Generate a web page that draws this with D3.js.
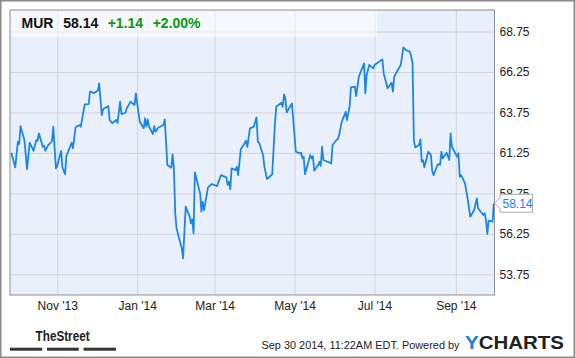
<!DOCTYPE html>
<html>
<head>
<meta charset="utf-8">
<script src="https://cdn.jsdelivr.net/npm/d3@7"></script>
<style>
  body { margin: 0; background: #fff; }
  svg { display: block; font-family: 'Liberation Sans', Arial, sans-serif; }
</style>
</head>
<body>
<div id="chart"></div>
<script>
// MUR daily close
var dates = [
  '2013-09-27', '2013-09-30', '2013-10-02', '2013-10-03', '2013-10-04', '2013-10-07', '2013-10-09', '2013-10-11', '2013-10-14', '2013-10-16',
  '2013-10-17', '2013-10-18', '2013-10-21', '2013-10-22', '2013-10-23', '2013-10-25', '2013-10-28', '2013-10-29', '2013-10-31',
  '2013-11-01', '2013-11-04', '2013-11-05', '2013-11-07', '2013-11-08', '2013-11-11', '2013-11-12', '2013-11-13', '2013-11-15', '2013-11-18',
  '2013-11-19', '2013-11-22', '2013-11-25', '2013-11-26', '2013-11-27', '2013-11-29',
  '2013-12-02', '2013-12-03', '2013-12-05', '2013-12-06', '2013-12-09', '2013-12-10', '2013-12-11', '2013-12-13', '2013-12-16', '2013-12-17',
  '2013-12-19', '2013-12-20', '2013-12-23', '2013-12-24', '2013-12-27', '2013-12-30', '2013-12-31',
  '2014-01-02', '2014-01-03', '2014-01-06', '2014-01-07', '2014-01-08', '2014-01-09', '2014-01-10', '2014-01-13', '2014-01-14', '2014-01-15',
  '2014-01-17', '2014-01-21', '2014-01-22', '2014-01-24', '2014-01-27', '2014-01-28', '2014-01-29', '2014-01-30', '2014-01-31',
  '2014-02-03', '2014-02-04', '2014-02-05', '2014-02-07', '2014-02-10', '2014-02-11', '2014-02-12', '2014-02-13', '2014-02-14', '2014-02-18',
  '2014-02-19', '2014-02-20', '2014-02-21', '2014-02-24', '2014-02-27',
  '2014-03-03', '2014-03-04', '2014-03-06', '2014-03-10', '2014-03-11', '2014-03-12', '2014-03-13', '2014-03-14', '2014-03-17', '2014-03-18',
  '2014-03-19', '2014-03-21', '2014-03-24', '2014-03-25', '2014-03-26', '2014-03-28', '2014-03-31',
  '2014-04-02', '2014-04-03', '2014-04-04', '2014-04-07', '2014-04-08', '2014-04-10', '2014-04-14', '2014-04-16', '2014-04-17', '2014-04-21',
  '2014-04-22', '2014-04-23', '2014-04-24', '2014-04-25', '2014-04-29',
  '2014-05-02', '2014-05-05', '2014-05-06', '2014-05-07', '2014-05-08', '2014-05-09', '2014-05-13', '2014-05-14', '2014-05-15', '2014-05-16',
  '2014-05-19', '2014-05-20', '2014-05-21', '2014-05-22', '2014-05-23', '2014-05-29', '2014-05-30',
  '2014-06-02', '2014-06-03', '2014-06-04', '2014-06-06', '2014-06-09', '2014-06-10', '2014-06-12', '2014-06-13', '2014-06-16', '2014-06-17',
  '2014-06-19', '2014-06-23', '2014-06-24', '2014-06-25', '2014-06-27', '2014-06-30',
  '2014-07-01', '2014-07-07', '2014-07-08', '2014-07-11', '2014-07-14', '2014-07-15', '2014-07-16', '2014-07-18', '2014-07-21', '2014-07-23',
  '2014-07-25', '2014-07-28', '2014-07-29', '2014-07-30', '2014-07-31',
  '2014-08-01', '2014-08-04', '2014-08-05', '2014-08-06', '2014-08-07', '2014-08-08', '2014-08-11', '2014-08-12', '2014-08-13', '2014-08-14',
  '2014-08-15', '2014-08-18', '2014-08-19', '2014-08-20', '2014-08-21', '2014-08-22', '2014-08-25', '2014-08-27', '2014-08-28', '2014-08-29',
  '2014-09-02', '2014-09-03', '2014-09-04', '2014-09-05', '2014-09-08', '2014-09-10', '2014-09-12', '2014-09-15', '2014-09-17', '2014-09-18',
  '2014-09-19', '2014-09-22', '2014-09-23', '2014-09-24', '2014-09-25', '2014-09-26', '2014-09-29', '2014-09-30'
]

var prices = [
  61.26, 60.36, 61.94, 61.8, 62.9, 62.04, 60.24, 61.88, 61.38, 62.04,
  62.0, 62.46, 61.63, 61.69, 61.38, 61.71, 61.97, 62.87, 60.3,
  60.44, 61.38, 60.35, 59.94, 61.06, 61.67, 61.88, 61.53, 62.83, 62.97,
  62.87, 64.25, 64.27, 65.03, 65.03, 64.93,
  65.1, 65.55, 63.59, 63.94, 64.1, 64.15, 63.28, 63.08, 63.28, 63.11,
  64.41, 63.65, 63.73, 64.0, 64.41, 64.21, 64.93,
  63.73, 63.18, 62.77, 63.39, 62.87, 63.32, 62.87, 62.42, 62.91, 62.56,
  62.8, 62.97, 63.32, 60.5, 60.33, 61.16, 60.3, 57.52, 56.6,
  55.66, 55.36, 54.74, 57.93, 57.31, 56.9, 57.15, 56.28, 60.05, 58.75,
  57.62, 58.23, 57.72, 59.12, 59.33,
  59.2, 59.47, 59.88, 59.74, 59.27, 59.47, 59.0, 60.3, 60.19, 60.4,
  59.88, 61.47, 61.84, 62.0, 61.63, 62.77, 62.87,
  63.45, 61.94, 61.88, 61.12, 60.4, 59.64, 59.93, 62.97, 64.1, 64.35,
  64.1, 64.87, 64.62, 63.75, 64.31,
  61.32, 61.22, 61.26, 60.91, 61.01, 59.94, 61.12, 60.91, 61.05, 60.15,
  60.5, 60.7, 60.44, 61.63, 60.81, 60.6, 61.74,
  62.05, 62.09, 62.35, 63.17, 63.79, 63.28, 64.1, 65.3, 65.34, 64.76,
  65.95, 66.78, 64.93, 66.06, 66.68, 66.47,
  66.68, 67.03, 66.16, 65.24, 65.58, 65.03, 65.95, 66.26, 66.68, 67.77,
  67.6, 67.5, 67.19, 66.78, 62.04,
  61.59, 61.74, 62.09, 60.7, 60.8, 60.36, 61.32, 61.22, 61.12, 60.15,
  59.88, 60.5, 60.56, 60.5, 61.32, 60.91, 61.26, 60.81, 62.46, 61.63,
  61.01, 61.23, 59.78, 59.88, 59.37, 58.44, 57.31, 57.72, 58.44, 57.83,
  57.72, 57.41, 57.52, 57.11, 56.24, 57.06, 57.0, 58.14
]

var yTicks = [53.75, 56.25, 58.75, 61.25, 63.75, 66.25, 68.75]
var xTicks = ['2013-11-01', '2014-01-01', '2014-03-01', '2014-05-01', '2014-07-01', '2014-09-01']

var ticker = 'MUR'
var lastPrice = '58.14'
var change = '+1.14'
var changePct = '+2.00%'
var stamp = 'Sep 30 2014, 11:22AM EDT. Powered by'

var width = 575
var height = 358
var plot = { left: 10, top: 10, right: 494.5, bottom: 295 }

var parse = d3.timeParse('%Y-%m-%d')
var data = dates.map(function (d, i) { return { date: parse(d), value: prices[i] } })

var svg = d3.select('#chart').append('svg')
  .attr('width', width)
  .attr('height', height)

// outer frame
svg.append('rect')
  .attr('x', 0.5).attr('y', 0.5)
  .attr('width', width - 1).attr('height', height - 1)
  .attr('fill', '#fff')
  .attr('stroke', '#8a8a8a')
  .attr('stroke-width', 2)

var x = d3.scaleTime()
  .domain([parse('2013-09-26'), new Date(2014, 8, 30, 12)])
  .range([plot.left, plot.right])

var y = d3.scaleLinear()
  .domain([52.47, 70.08])
  .range([plot.bottom, plot.top])

svg.append('rect')
  .attr('x', plot.left).attr('y', plot.top)
  .attr('width', plot.right - plot.left)
  .attr('height', plot.bottom - plot.top)
  .attr('fill', '#eaf0fb')

// grid
svg.append('g')
  .attr('transform', 'translate(0,' + plot.bottom + ')')
  .call(d3.axisBottom(x).tickValues(xTicks.map(parse)).tickSize(-(plot.bottom - plot.top)).tickFormat(''))
  .call(function (g) { g.select('.domain').remove() })
  .selectAll('line').attr('stroke', '#d2d5da')

svg.append('g')
  .attr('transform', 'translate(' + plot.left + ',0)')
  .call(d3.axisLeft(y).tickValues(yTicks).tickSize(-(plot.right - plot.left)).tickFormat(''))
  .call(function (g) { g.select('.domain').remove() })
  .selectAll('line').attr('stroke', '#d2d5da')

// header band
svg.append('rect')
  .attr('x', plot.left).attr('y', plot.top)
  .attr('width', 367).attr('height', 27)
  .attr('fill', '#fff')
  .attr('fill-opacity', 0.5)

var line = d3.line()
  .x(function (d) { return x(d.date) })
  .y(function (d) { return y(d.value) })

svg.append('path')
  .datum(data)
  .attr('fill', 'none')
  .attr('stroke', '#1a87e6')
  .attr('stroke-width', 1.8)
  .attr('stroke-linejoin', 'round')
  .attr('d', line)

svg.append('rect')
  .attr('x', plot.left).attr('y', plot.top)
  .attr('width', plot.right - plot.left)
  .attr('height', plot.bottom - plot.top)
  .attr('fill', 'none')
  .attr('stroke', '#8e8e8e')

// axes labels
var yAxis = svg.append('g')
  .attr('transform', 'translate(' + plot.right + ',0)')
  .call(d3.axisRight(y).tickValues(yTicks).tickSize(0).tickPadding(5).tickFormat(d3.format('.2f')))
yAxis.select('.domain').remove()
yAxis.selectAll('text').attr('font-size', 12).attr('fill', '#222').attr('font-family', 'Liberation Sans, Arial, sans-serif')

var xFmt = d3.timeFormat("%b '%y")
var xAxis = svg.append('g')
  .attr('transform', 'translate(0,' + plot.bottom + ')')
  .call(d3.axisBottom(x).tickValues(xTicks.map(parse)).tickSize(0).tickPadding(6).tickFormat(xFmt))
xAxis.select('.domain').remove()
xAxis.selectAll('text').attr('font-size', 12).attr('fill', '#222').attr('font-family', 'Liberation Sans, Arial, sans-serif')

// last price callout (sits over the 58.75 label, as in the original)
var last = data[data.length - 1]
var ly = y(last.value)
var lx = plot.right
svg.append('path')
  .attr('d', 'M' + lx + ',' + ly + 'L' + (lx + 5.5) + ',' + (ly - 5.5) + 'V' + (ly - 9) + 'H' + (lx + 38) +
    'V' + (ly + 9) + 'H' + (lx + 5.5) + 'V' + (ly + 5.5) + 'Z')
  .attr('fill', '#fff')
  .attr('stroke', '#aaa')
svg.append('text')
  .attr('x', lx + 8).attr('y', ly + 4.3)
  .attr('font-size', 12)
  .attr('fill', '#1a87e6')
  .text(last.value.toFixed(2))

// header text
var head = svg.append('g').attr('font-size', 14).attr('font-weight', 'bold')
head.append('text').attr('x', 21.5).attr('y', 28.3).attr('fill', '#111').text(ticker)
head.append('text').attr('x', 63.3).attr('y', 28.3).attr('fill', '#111').text(lastPrice)
head.append('text').attr('x', 107.7).attr('y', 28.3).attr('fill', '#0a9a0a').text(change)
head.append('text').attr('x', 152.7).attr('y', 28.3).attr('fill', '#0a9a0a').text(changePct)

// footer
svg.append('text')
  .attr('x', 35.6).attr('y', 340.7)
  .attr('font-family', 'Liberation Sans Narrow, Arial Narrow, sans-serif')
  .attr('font-size', 15)
  .attr('font-weight', 'bold')
  .attr('fill', '#222')
  .attr('textLength', 54)
  .attr('lengthAdjust', 'spacingAndGlyphs')
  .text('TheStreet')

var bars = [[9.9, 42.2], [47, 78.8], [83.6, 115.9]]
svg.selectAll('.bar').data(bars).enter().append('rect')
  .attr('x', function (d) { return d[0] })
  .attr('y', 347.7)
  .attr('width', function (d) { return d[1] - d[0] })
  .attr('height', 3)
  .attr('fill', '#333')

svg.append('text')
  .attr('x', 261.5).attr('y', 348.5)
  .attr('font-size', 11)
  .attr('fill', '#222')
  .attr('textLength', 198)
  .attr('lengthAdjust', 'spacingAndGlyphs')
  .text(stamp)

var logo = svg.append('text')
  .attr('x', 465).attr('y', 349.3)
  .attr('font-size', 17.5)
  .attr('font-weight', 'bold')
  .attr('textLength', 99)
  .attr('lengthAdjust', 'spacingAndGlyphs')
logo.append('tspan').attr('fill', '#1d7fd6').text('Y')
logo.append('tspan').attr('fill', '#222').text('CHARTS')
</script>
</body>
</html>
